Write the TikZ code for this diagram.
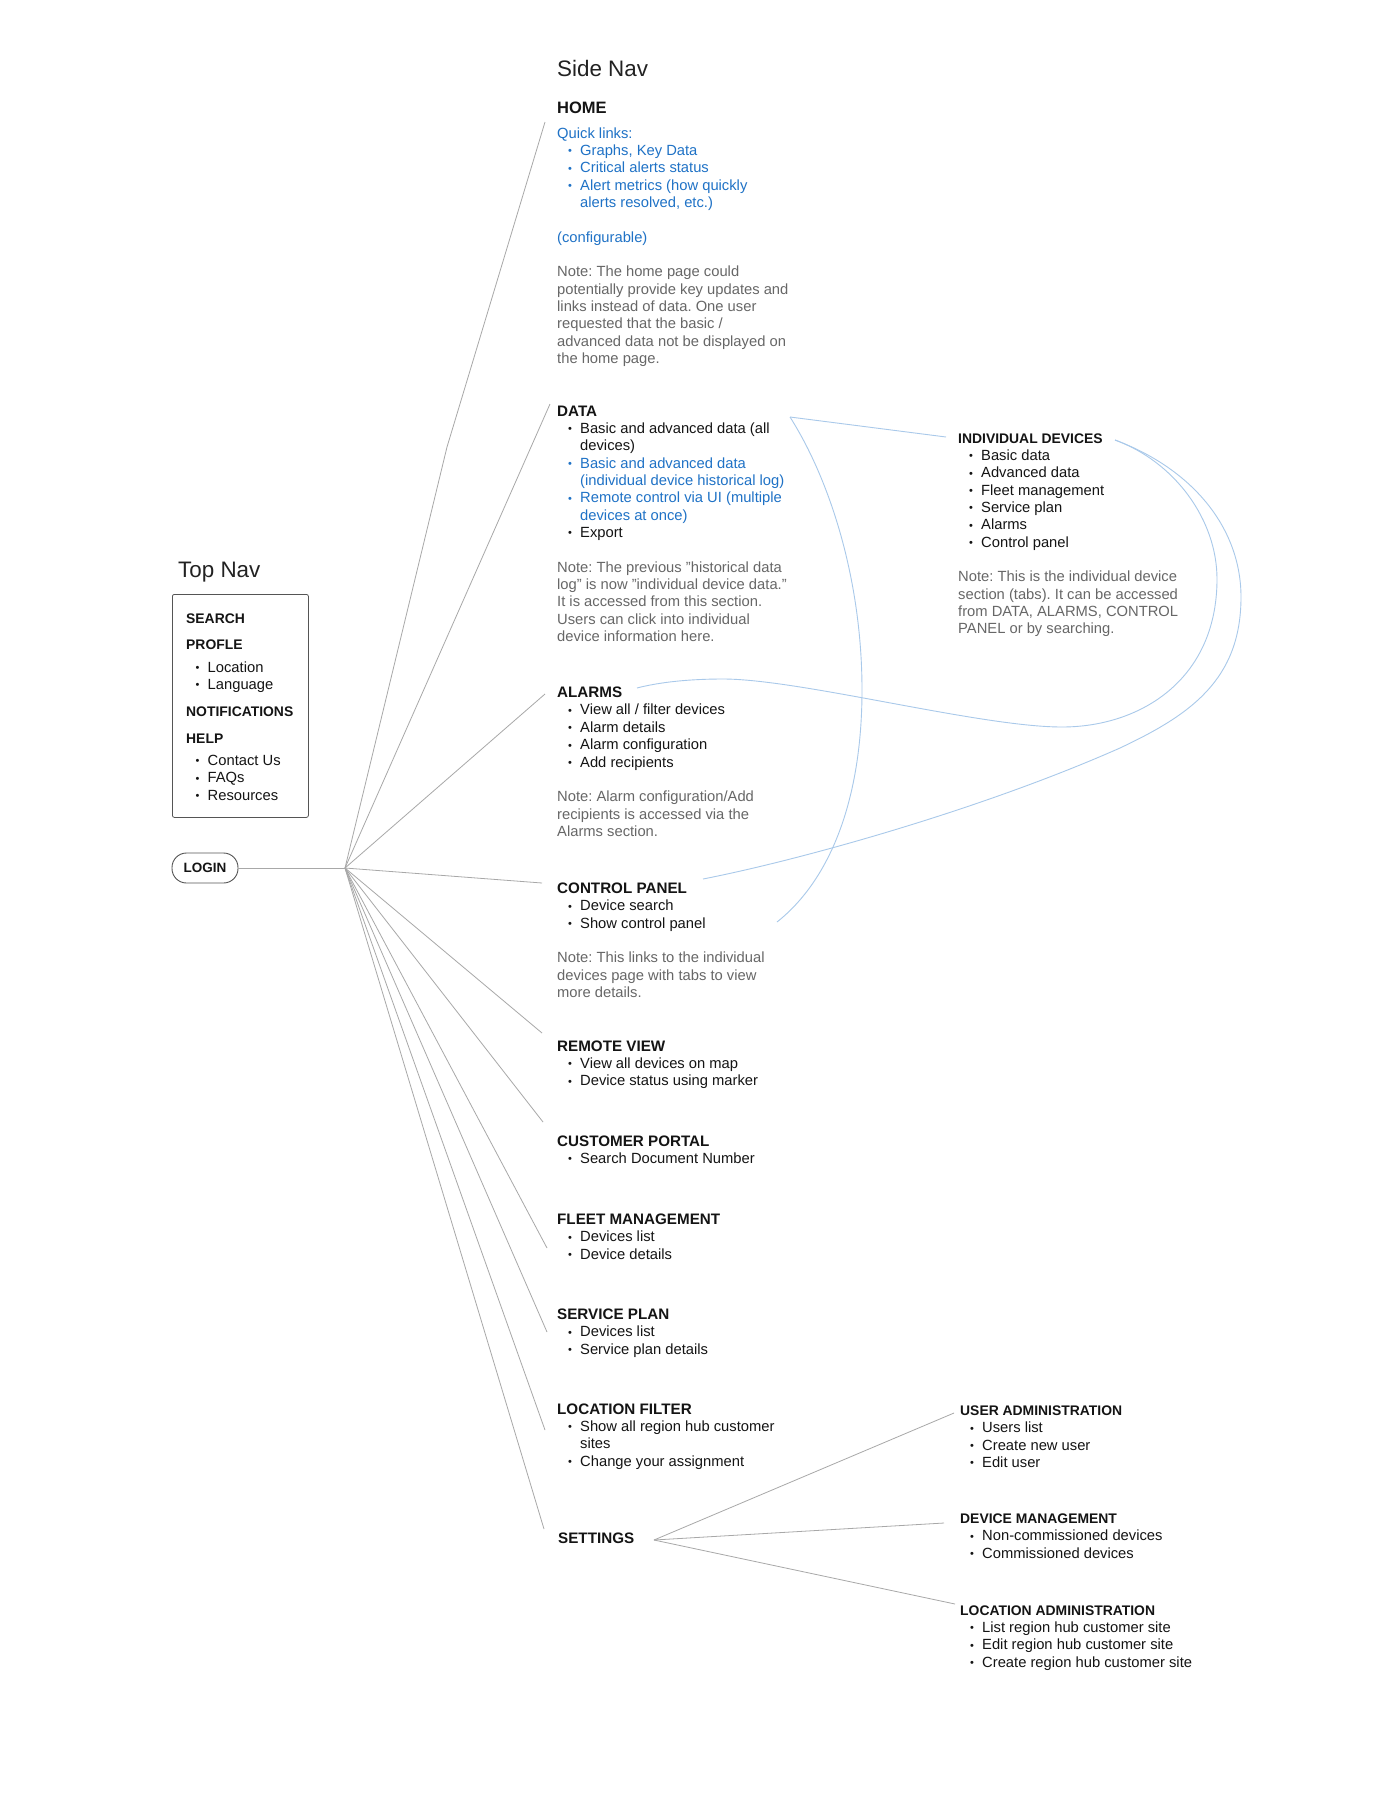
\documentclass[tikz,border=0pt]{standalone}
\usepackage{fontspec}
\setmainfont{Liberation Sans}
\definecolor{ink}{HTML}{141414}
\definecolor{titleink}{HTML}{222222}
\definecolor{notegray}{HTML}{676767}
\definecolor{linkblue}{HTML}{1F72C6}
\definecolor{linegray}{HTML}{A8A8A8}
\definecolor{curveblue}{HTML}{A9C9EA}
\definecolor{boxgray}{HTML}{555555}
\newdimen\bA \bA=11pt
\newdimen\bB \bB=12pt
\newcommand\bul{\raisebox{0.6pt}{\fontsize{11}{11}\selectfont\char"2022}}
\newcommand\blk[1]{\vtop{\frenchspacing\baselineskip=17.35pt\lineskiplimit=-40pt\lineskip=0pt\relax #1}}
\newcommand\Gap[1]{\vskip#1\relax}
\newcommand\Ln[1]{\hbox{#1}}
\newcommand\LnB[1]{\hbox{\color{linkblue}#1}}
\newcommand\Nt[1]{\hbox{\color{notegray}#1}}
\newcommand\Hd[1]{\hbox{\fontsize{15.2}{17.35}\selectfont\bfseries #1}}
\newcommand\Hs[1]{\hbox{\fontsize{13.9}{17.35}\selectfont\bfseries #1}}
\newcommand\Bl[1]{\hbox{\hspace*{\bA}\makebox[\bB][l]{\bul}#1}}
\newcommand\BlB[1]{\hbox{\color{linkblue}\hspace*{\bA}\makebox[\bB][l]{\bul}#1}}
\newcommand\Cn[1]{\hbox{\hspace*{\dimexpr\bA+\bB\relax}#1}}
\newcommand\CnB[1]{\hbox{\color{linkblue}\hspace*{\dimexpr\bA+\bB\relax}#1}}
\tikzset{
  txt/.style={anchor=base west, inner sep=0pt, font=\fontsize{14.75}{17.35}\selectfont, text=ink},
  ttl/.style={anchor=base west, inner sep=0pt, font=\fontsize{22.4}{26}\selectfont, text=titleink},
  gline/.style={draw=linegray, line width=0.8pt},
  bline/.style={draw=curveblue, line width=0.9pt},
}
\begin{document}
\begin{tikzpicture}[x=1pt,y=-1pt]
\fill[white] (0,0) rectangle (1400,1797);
\useasboundingbox (0,0) rectangle (1400,1797);

% titles
\node[ttl] (sidenav) at (557,76) {Side Nav};
\node[ttl] (topnav) at (178,577) {Top Nav};

% top nav box
\node[draw=boxgray, line width=0.8pt, rounded corners=2pt, minimum width=136pt, minimum height=223pt, anchor=north west, inner sep=0pt] (topbox) at (172,594) {};
\node[txt] (topitems) at (186,623) {\bA=9.5pt\bB=12pt\blk{\Hs{SEARCH}\Gap{8.65pt}\Hs{PROFLE}\Gap{5.65pt}\Bl{Location}\Bl{Language}\Gap{9.65pt}\Hs{NOTIFICATIONS}\Gap{9.65pt}\Hs{HELP}\Gap{4.65pt}\Bl{Contact Us}\Bl{FAQs}\Bl{Resources}}};

% login
\node[draw=boxgray, line width=0.9pt, rounded corners=14.5pt, minimum width=66pt, minimum height=30pt, inner sep=0pt, text=ink, font=\fontsize{13.5}{16}\selectfont\bfseries] (login) at (205,868) {LOGIN};

% side nav sections
\node[txt, font=\fontsize{16.5}{18}\selectfont\bfseries] (home) at (557,113) {HOME};
\node[txt] (homebody) at (557,138) {\blk{\LnB{Quick links:}\BlB{Graphs, Key Data}\BlB{Critical alerts status}\BlB{Alert metrics (how quickly}\CnB{alerts resolved, etc.)}\Ln{}\LnB{(configurable)}\Ln{}\Nt{Note: The home page could}\Nt{potentially provide key updates and}\Nt{links instead of data. One user}\Nt{requested that the basic /}\Nt{advanced data not be displayed on}\Nt{the home page.}}};

\node[txt] (data) at (557,416) {\blk{\Hd{DATA}\Bl{Basic and advanced data (all}\Cn{devices)}\BlB{Basic and advanced data}\CnB{(individual device historical log)}\BlB{Remote control via UI (multiple}\CnB{devices at once)}\Bl{Export}\Ln{}\Nt{Note: The previous "historical data}\Nt{log" is now "individual device data.”}\Nt{It is accessed from this section.}\Nt{Users can click into individual}\Nt{device information here.}}};

\node[txt] (alarms) at (557,697.6) {\blk{\Hd{ALARMS}\Bl{View all / filter devices}\Bl{Alarm details}\Bl{Alarm configuration}\Bl{Add recipients}\Ln{}\Nt{Note: Alarm configuration/Add}\Nt{recipients is accessed via the}\Nt{Alarms section.}}};

\node[txt] (cpanel) at (557,893.5) {\blk{\Hd{CONTROL PANEL}\Bl{Device search}\Bl{Show control panel}\Ln{}\Nt{Note: This links to the individual}\Nt{devices page with tabs to view}\Nt{more details.}}};

\node[txt] (remote) at (557,1051) {\blk{\Hd{REMOTE VIEW}\Bl{View all devices on map}\Bl{Device status using marker}}};
\node[txt] (portal) at (557,1146) {\blk{\Hd{CUSTOMER PORTAL}\Bl{Search Document Number}}};
\node[txt] (fleet) at (557,1224.5) {\blk{\Hd{FLEET MANAGEMENT}\Bl{Devices list}\Bl{Device details}}};
\node[txt] (service) at (557,1319.5) {\blk{\Hd{SERVICE PLAN}\Bl{Devices list}\Bl{Service plan details}}};
\node[txt] (locfilter) at (557,1414) {\blk{\Hd{LOCATION FILTER}\Bl{Show all region hub customer}\Cn{sites}\Bl{Change your assignment}}};
\node[txt] (settings) at (558,1543.5) {\blk{\Hd{SETTINGS}}};

% individual devices
\node[txt] (indiv) at (958,443) {\blk{\Hs{INDIVIDUAL DEVICES}\Bl{Basic data}\Bl{Advanced data}\Bl{Fleet management}\Bl{Service plan}\Bl{Alarms}\Bl{Control panel}\Ln{}\Nt{Note: This is the individual device}\Nt{section (tabs). It can be accessed}\Nt{from DATA, ALARMS, CONTROL}\Nt{PANEL or by searching.}}};

% settings children
\node[txt] (useradm) at (960,1415.5) {\bA=10pt\blk{\Hs{USER ADMINISTRATION}\Bl{Users list}\Bl{Create new user}\Bl{Edit user}}};
\node[txt] (devmgmt) at (960,1523.5) {\bA=10pt\blk{\Hs{DEVICE MANAGEMENT}\Bl{Non-commissioned devices}\Bl{Commissioned devices}}};
\node[txt] (locadm) at (960,1615) {\bA=10pt\blk{\Hs{LOCATION ADMINISTRATION}\Bl{List region hub customer site}\Bl{Edit region hub customer site}\Bl{Create region hub customer site}}};

% connector end points
\coordinate (hub) at (345,868);
\coordinate (kHome) at (447,447);
\coordinate (eHome) at (545,122);
\coordinate (eData) at (550,404);
\coordinate (eAlarms) at (545,694);
\coordinate (eCP) at (542,883);
\coordinate (eRemote) at (542,1033);
\coordinate (ePortal) at (543,1122);
\coordinate (eFleet) at (547,1248);
\coordinate (eService) at (547,1332);
\coordinate (eLoc) at (545,1430);
\coordinate (eSet) at (544,1529);
\coordinate (sHub) at (654,1540);
\coordinate (eUA) at (954,1413);
\coordinate (eDM) at (944,1523);
\coordinate (eLA) at (955,1604);

\draw[gline] (login.east) -- (hub);
\draw[gline] (hub) -- (kHome) -- (eHome);
\foreach \e in {eData,eAlarms,eCP,eRemote,ePortal,eFleet,eService,eLoc,eSet}
  \draw[gline] (hub) -- (\e);
\foreach \e in {eUA,eDM,eLA}
  \draw[gline] (sHub) -- (\e);

% blue cross links
\coordinate (dStart) at (790,417);
\coordinate (idIn) at (946,437);
\coordinate (cpEnd) at (777,922);
\coordinate (idOut) at (1115,440);
\coordinate (alEnd) at (637,688);
\coordinate (cpIn) at (703,879);

\draw[bline] (dStart) -- (idIn);
\draw[bline] (dStart) .. controls (830,480) and (862,580) .. (862,690)
  .. controls (862,800) and (830,880) .. (cpEnd);
\draw[bline] (idOut) .. controls (1175,462) and (1217,520) .. (1217,579)
  .. controls (1217,680) and (1140,727) .. (1062,727)
  .. controls (980,727) and (800,679) .. (723,679)
  .. controls (690,679) and (660,682) .. (alEnd);
\draw[bline] (idOut) .. controls (1195,470) and (1241,530) .. (1241,597)
  .. controls (1241,680) and (1190,715) .. (1120,748)
  .. controls (980,810) and (800,860) .. (cpIn);
\end{tikzpicture}
\end{document}
